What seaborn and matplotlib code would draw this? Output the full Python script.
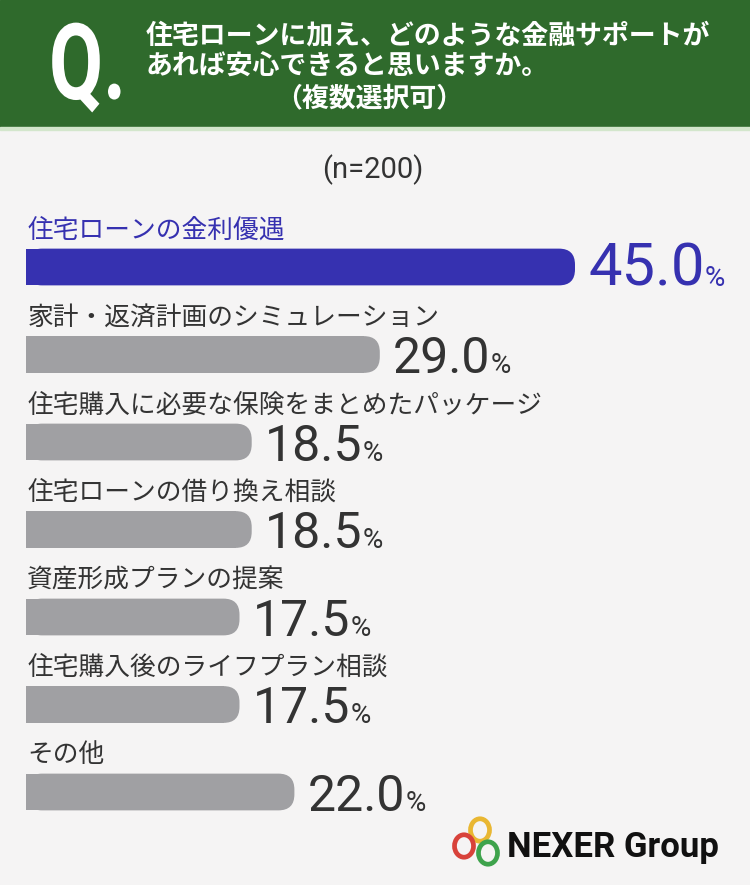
import matplotlib
matplotlib.use('Agg')
import matplotlib.pyplot as plt
from matplotlib.patches import Rectangle, FancyBboxPatch, Circle, PathPatch
from matplotlib.textpath import TextPath
from matplotlib.font_manager import FontProperties
from matplotlib.transforms import Affine2D, IdentityTransform
import pandas as pd
import seaborn as sns

# data
labels = ['住宅ローンの金利優遇', '家計・返済計画のシミュレーション',
          '住宅購入に必要な保険をまとめたパッケージ', '住宅ローンの借り換え相談',
          '資産形成プランの提案', '住宅購入後のライフプラン相談', 'その他']
values = [45.0, 29.0, 18.5, 18.5, 17.5, 17.5, 22.0]
question = ['住宅ローンに加え、どのような金融サポートが', 'あれば安心できると思いますか。', '（複数選択可）']
n_label = '(n=200)'

BLUE = '#3631b0'
GRAY = '#a0a0a3'
TXT = '#333333'
BG = '#f5f4f4'
GREEN = '#2f6a2c'

sns.set_theme(style='white')
plt.rcParams['font.family'] = ['Noto Sans CJK JP', 'DejaVu Sans']

W, H = 750, 885
fig = plt.figure(figsize=(7.5, 8.85), dpi=100, facecolor=BG)

# header
fig.add_artist(Rectangle((0, 1 - 127 / H), 1, 127 / H, transform=fig.transFigure,
                         color=GREEN, zorder=0))
fig.add_artist(Rectangle((0, 1 - 130 / H), 1, 3 / H, transform=fig.transFigure,
                         color='#d3e6cc', zorder=0))

# narrow "Q." drawn as a path (pixel coords)
qpath = TextPath((0, 0), 'Q.', size=106, prop=FontProperties(family='Roboto', weight='bold'))
qtrans = Affine2D().scale(0.74, 1.0).translate(49, H - 99)
fig.add_artist(PathPatch(qtrans.transform_path(qpath), transform=IdentityTransform(),
                         facecolor='white', linewidth=0, zorder=2))

fig.text(146 / W, 1 - 35 / H, question[0], color='white', fontsize=19.4,
         fontweight='bold', va='center', ha='left')
fig.text(146 / W, 1 - 67 / H, question[1], color='white', fontsize=19.4,
         fontweight='bold', va='center', ha='left')
fig.text(369 / W, 1 - 98 / H, question[2], color='white', fontsize=19.4,
         fontweight='bold', va='center', ha='center')

fig.text(373 / W, 1 - 170 / H, n_label, color=TXT, fontsize=21, family='Roboto',
         va='center', ha='center')

# bar axes: 12.2 px per %, 87.5 px per row
px_x = 12.2
px_y = 87.5
ax = fig.add_axes([26 / W, 1 - 879.5 / H, 724 / W, 700 / H])
ax.set_facecolor('none')
df = pd.DataFrame({'label': labels, 'value': values})
palette = [BLUE] + [GRAY] * (len(labels) - 1)
sns.barplot(data=df, x='value', y='label', hue='label', palette=palette,
            legend=False, width=0.42, ax=ax, saturation=1)
ax.set_xlim(0, 724 / px_x)
ax.set_ylim(7, -1)
ax.axis('off')

r = 16 / px_x
aspect = px_x / px_y
for p in list(ax.patches):
    x0, y0 = p.get_x(), p.get_y()
    w, h = p.get_width(), p.get_height()
    p.set_width(w - r)
    p.set_linewidth(0)
    ax.add_patch(FancyBboxPatch((x0, y0), w, h,
                                boxstyle=f'round,pad=0,rounding_size={r}',
                                mutation_aspect=aspect, facecolor=p.get_facecolor(),
                                linewidth=0))

for i, (lab, v) in enumerate(zip(labels, values)):
    c = BLUE if i == 0 else TXT
    ax.text(0.1, i - 0.42, lab, color=c, fontsize=18.5, va='center', ha='left')
    size = 43 if i == 0 else 36
    t = ax.text(v + 1.1, i + 0.215, f'{v:.1f}', color=c, fontsize=size,
                family='Roboto', va='baseline', ha='left')
    ax.annotate('%', xy=(1.0, i + 0.215), xycoords=(t, 'data'), xytext=(0, 0),
                textcoords='offset points', color=c, fontsize=20, family='Roboto',
                va='baseline', ha='left')

# logo
for cx, cy, col in [(480, 830, '#e9b732'), (464, 846, '#d8423a'), (488, 853, '#3ea34c')]:
    fig.add_artist(Circle((cx / W, 1 - cy / H), 9.5 / W, transform=fig.transFigure,
                          fill=False, edgecolor=col, linewidth=3.4))
fig.text(507 / W, 1 - 857 / H, 'NEXER Group', color='#111111', fontsize=25,
         fontweight='bold', family='Roboto', va='baseline', ha='left')

fig.savefig('out.png', dpi=100, facecolor=BG)
